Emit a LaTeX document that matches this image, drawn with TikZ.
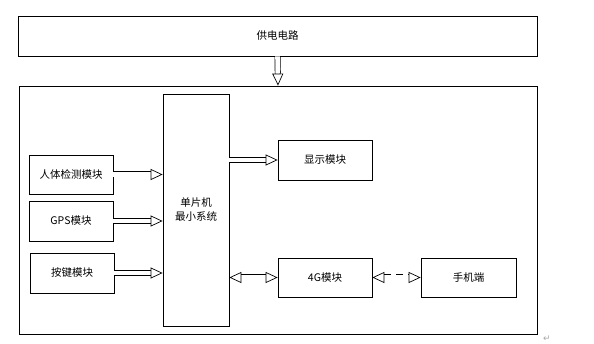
\documentclass[tikz,border=0pt]{standalone}
\usepackage{fontspec}
\newfontfamily\cjk{Noto Sans CJK SC}
\newfontfamily\dejavu{DejaVu Sans}
\usetikzlibrary{arrows.meta}
\tikzset{
  box/.style={draw=black, line width=0.8pt, inner sep=0pt, align=center,
    font=\cjk\fontsize{10.5}{14}\selectfont},
  harrow/.style={double=white, draw=black, line width=0.7pt, double distance=4.6pt,
    -{Triangle[open, length=12pt, width=11pt, line width=0.7pt]}},
  darrow/.style={double=white, draw=black, line width=0.7pt, double distance=4.6pt,
    {Triangle[open, length=12pt, width=11pt, line width=0.7pt]}-{Triangle[open, length=12pt, width=11pt, line width=0.7pt]}},
}
\begin{document}
\begin{tikzpicture}[x=1pt,y=-1pt]
\useasboundingbox (0,0) rectangle (594,344);
\node[box, minimum width=519pt, minimum height=40pt] (power) at (277.5,36) {供电电路};
\node[box, minimum width=518pt, minimum height=248pt] (outer) at (278,210) {};
\node[box, minimum width=66pt, minimum height=232pt] (mcu) at (196,210) {单片机\\最小系统};
\node[box, minimum width=84pt, minimum height=39pt] (hb) at (71,174.5) {人体检测模块};
\node[box, minimum width=84pt, minimum height=40pt] (gps) at (71,221) {GPS模块};
\node[box, minimum width=84pt, minimum height=40pt] (key) at (72,273) {按键模块};
\node[box, minimum width=94pt, minimum height=40pt] (disp) at (325,160) {显示模块};
\node[box, minimum width=94pt, minimum height=39pt] (g4) at (325,277.5) {4G模块};
\node[box, minimum width=95pt, minimum height=39pt] (phone) at (468.5,277.5) {手机端};
\node[text=gray!70, font=\dejavu\fontsize{9}{10}\selectfont, inner sep=0pt] (ret) at (547,339) {↵};
\draw[harrow] (power.south) -- (outer.north);
\draw[harrow] (hb.east) -- (mcu.west |- hb.east);
\draw[harrow] (gps.east) -- (mcu.west |- gps.east);
\draw[harrow] (key.east) -- (mcu.west |- key.east);
\draw[harrow] (mcu.east |- disp.west) -- (disp.west);
\draw[darrow] (mcu.east |- g4.west) -- (g4.west);
\draw[darrow, dash pattern=on 7pt off 5pt] (g4.east) -- (phone.west);
\end{tikzpicture}
\end{document}
